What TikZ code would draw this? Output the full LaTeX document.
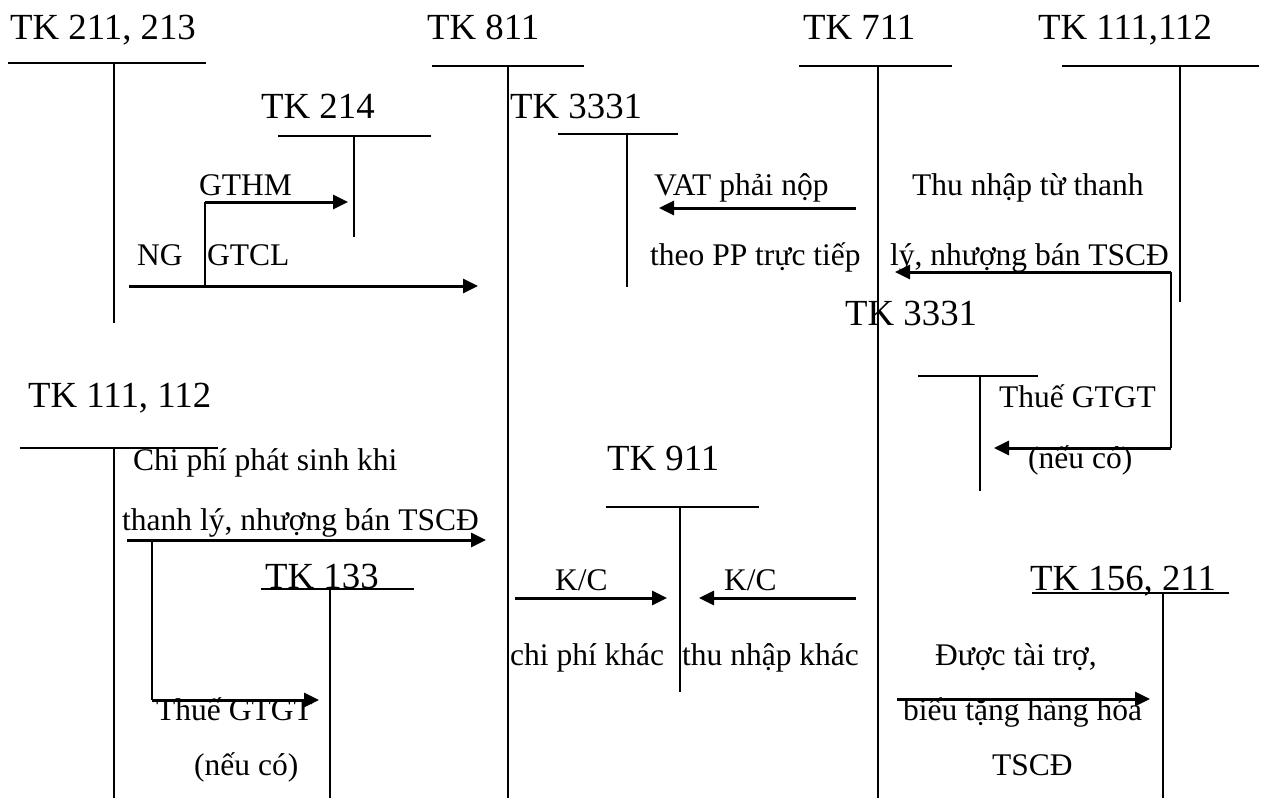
\documentclass[tikz,border=0pt]{standalone}
\usepackage{fontspec}
\setmainfont{Liberation Serif}
\usetikzlibrary{arrows.meta}
\begin{document}
\begin{tikzpicture}[x=1pt,y=-1pt,
  big/.style={inner sep=0pt,anchor=base west,font=\fontsize{36.8}{40}\selectfont},
  small/.style={inner sep=0pt,anchor=base west,font=\fontsize{31.5}{34}\selectfont},
  tline/.style={line width=2pt},
  arr/.style={line width=3pt,-{Triangle[length=15pt,width=14pt]}}]
\useasboundingbox (0,0) rectangle (1270,798);

% ---------- TK 211, 213
\node[big] (h1) at (10,39) {TK 211, 213};
\coordinate (a1l) at (8,63); \coordinate (a1r) at (206,63);
\coordinate (a1t) at (114,63); \coordinate (a1b) at (114,323);
\draw[tline] (a1l) -- (a1r); \draw[tline] (a1t) -- (a1b);

% ---------- TK 811
\node[big] (h2) at (427,39) {TK 811};
\coordinate (a2l) at (432,66); \coordinate (a2r) at (584,66);
\coordinate (a2t) at (508,66); \coordinate (a2b) at (508,798);
\draw[tline] (a2l) -- (a2r); \draw[tline] (a2t) -- (a2b);

% ---------- TK 711
\node[big] (h3) at (803,39) {TK 711};
\coordinate (a3l) at (799,66); \coordinate (a3r) at (952,66);
\coordinate (a3t) at (878,66); \coordinate (a3b) at (878,798);
\draw[tline] (a3l) -- (a3r); \draw[tline] (a3t) -- (a3b);

% ---------- TK 111,112 (top)
\node[big] (h4) at (1038,39) {TK 111,112};
\coordinate (a4l) at (1062,66); \coordinate (a4r) at (1259,66);
\coordinate (a4t) at (1180,66); \coordinate (a4b) at (1180,302);
\draw[tline] (a4l) -- (a4r); \draw[tline] (a4t) -- (a4b);

% ---------- TK 214
\node[big] (h5) at (261,118) {TK 214};
\coordinate (a5l) at (278,136); \coordinate (a5r) at (431,136);
\coordinate (a5t) at (354,136); \coordinate (a5b) at (354,237);
\draw[tline] (a5l) -- (a5r); \draw[tline] (a5t) -- (a5b);

% ---------- TK 3331 (upper)
\node[big] (h6) at (510,118) {TK 3331};
\coordinate (a6l) at (558,134); \coordinate (a6r) at (678,134);
\coordinate (a6t) at (627,134); \coordinate (a6b) at (627,287);
\draw[tline] (a6l) -- (a6r); \draw[tline] (a6t) -- (a6b);

% ---------- GTHM / NG / GTCL
\node[small] (gthm) at (199,195) {GTHM};
\node[small] (ng) at (137,265) {NG};
\node[small] (gtcl) at (207,265) {GTCL};
\coordinate (s1) at (129,286); \coordinate (e1) at (478,286);
\coordinate (b1) at (205,286); \coordinate (b1u) at (205,202); \coordinate (e1b) at (348,202);
\draw[arr] (s1) -- (e1);
\draw[tline] (b1) -- (b1u);
\draw[arr] (b1u) -- (e1b);

% ---------- VAT
\node[small] (vat1) at (654,195) {VAT phải nộp};
\node[small] (vat2) at (650,265) {theo PP trực tiếp};
\coordinate (s2) at (856,208); \coordinate (e2) at (659,208);
\draw[arr] (s2) -- (e2);

% ---------- Thu nhap
\node[small] (tn1) at (912,195) {Thu nhập từ thanh};
\node[small] (tn2) at (890,265) {lý, nhượng bán TSCĐ};
\coordinate (c1) at (1171,448); \coordinate (c2) at (1171,272);
\coordinate (e3) at (895,272); \coordinate (e4) at (994,448);
\draw[tline] (c1) -- (c2);
\draw[arr] (c2) -- (e3);
\draw[arr] (c1) -- (e4);

% ---------- TK 3331 (lower)
\node[big] (h7) at (845,325) {TK 3331};
\coordinate (a7l) at (918,376); \coordinate (a7r) at (1038,376);
\coordinate (a7t) at (980,376); \coordinate (a7b) at (980,491);
\draw[tline] (a7l) -- (a7r); \draw[tline] (a7t) -- (a7b);
\node[small] (vt1) at (999,407) {Thuế GTGT};
\node[small] (vt2) at (1028,468) {(nếu có)};

% ---------- TK 111, 112 (lower)
\node[big] (h8) at (28,407) {TK 111, 112};
\coordinate (a8l) at (20,448); \coordinate (a8r) at (218,448);
\coordinate (a8t) at (114,448); \coordinate (a8b) at (114,798);
\draw[tline] (a8l) -- (a8r); \draw[tline] (a8t) -- (a8b);
\node[small] (cp1) at (133,470) {Chi phí phát sinh khi};
\node[small] (cp2) at (122,530) {thanh lý, nhượng bán TSCĐ};
\coordinate (s5) at (127,540); \coordinate (e5) at (486,540);
\coordinate (d1) at (152,540); \coordinate (d2) at (152,700); \coordinate (e6) at (319,700);
\draw[arr] (s5) -- (e5);
\draw[tline] (d1) -- (d2);
\draw[arr] (d2) -- (e6);

% ---------- TK 133
\node[big] (h9) at (265,588) {TK 133};
\coordinate (a9l) at (261,589); \coordinate (a9r) at (414,589);
\coordinate (a9t) at (330,589); \coordinate (a9b) at (330,798);
\draw[tline] (a9l) -- (a9r); \draw[tline] (a9t) -- (a9b);
\node[small] (vt3) at (156,720) {Thuế GTGT};
\node[small] (vt4) at (194,775) {(nếu có)};

% ---------- TK 911
\node[big] (h10) at (607,470) {TK 911};
\coordinate (a10l) at (606,507); \coordinate (a10r) at (759,507);
\coordinate (a10t) at (680,507); \coordinate (a10b) at (680,692);
\draw[tline] (a10l) -- (a10r); \draw[tline] (a10t) -- (a10b);
\node[small] (kc1) at (555,590) {K/C};
\node[small] (kc2) at (724,590) {K/C};
\coordinate (s7) at (515,598); \coordinate (e7) at (667,598);
\coordinate (s8) at (856,598); \coordinate (e8) at (699,598);
\draw[arr] (s7) -- (e7);
\draw[arr] (s8) -- (e8);
\node[small] (cpk) at (510,665) {chi phí khác};
\node[small] (tnk) at (682,665) {thu nhập khác};

% ---------- TK 156, 211
\node[big] (h11) at (1030,590) {TK 156, 211};
\coordinate (a11l) at (1032,593); \coordinate (a11r) at (1229,593);
\coordinate (a11t) at (1163,593); \coordinate (a11b) at (1163,798);
\draw[tline] (a11l) -- (a11r); \draw[tline] (a11t) -- (a11b);
\node[small] (dt1) at (935,665) {Được tài trợ,};
\node[small] (dt2) at (903,720) {biếu tặng hàng hóa};
\node[small] (dt3) at (992,775) {TSCĐ};
\coordinate (s9) at (897,699); \coordinate (e9) at (1150,699);
\draw[arr] (s9) -- (e9);
\end{tikzpicture}
\end{document}
